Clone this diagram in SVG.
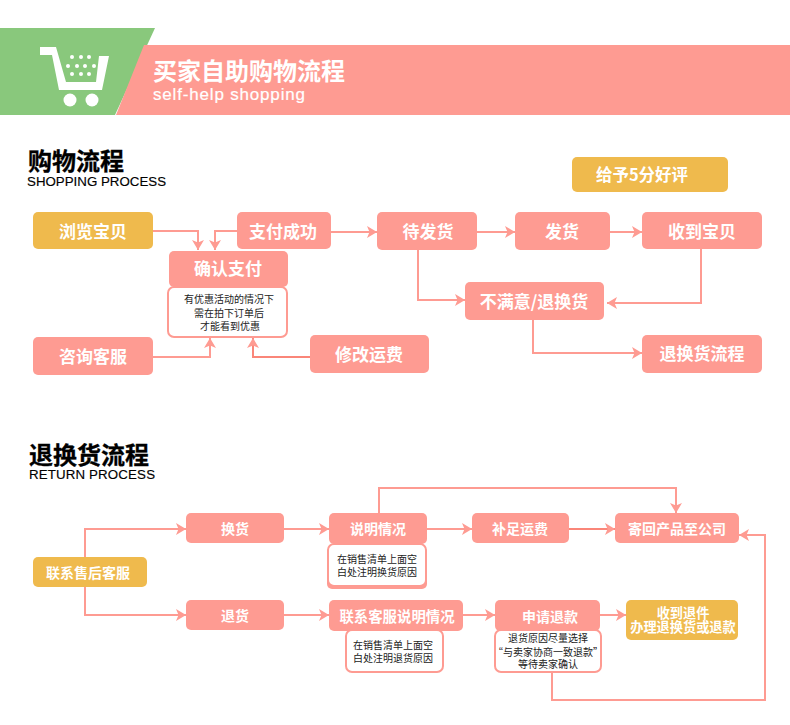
<svg xmlns="http://www.w3.org/2000/svg" width="790" height="725" viewBox="0 0 790 725">
<style>
text{font-family:"Noto Sans CJK SC","Liberation Sans",sans-serif;text-anchor:middle}
.b{fill:#fe9b92}.y{fill:#efba4d}
.t{fill:#fff;font-weight:700;font-size:17px}
.s{fill:#fff;font-weight:700;font-size:14px}
.n{fill:#fff;stroke:#fe9b92;stroke-width:2}
.nt{fill:#222;font-size:10px}
.c{fill:none;stroke:#fe9b92;stroke-width:2;marker-end:url(#a)}
.k{stroke:#fa8679}
.h{fill:#000;font-weight:700;font-size:24px;text-anchor:start;stroke:#000;stroke-width:.3}
.e{font-family:"Liberation Sans",sans-serif;font-size:13.3px;font-weight:400;stroke-width:.15}
</style>
<defs><marker id="a" markerUnits="userSpaceOnUse" markerWidth="11" markerHeight="12" refX="10" refY="6" orient="auto"><path d="M0 0L10 6L0 12L2.5 6Z" fill="#fe9b92"/></marker></defs>
<g id="header">
<path d="M0 28H155L115 115H0Z" fill="#89c87c"/>
<path d="M144 45H790V115H116Z" fill="#fe9b92"/>
<path d="M40 47H56L66 82H96L99 56H109L102 90H59L52 55H40Z" fill="#fff"/>
<circle cx="70" cy="100" r="6.5" fill="#fff"/><circle cx="92" cy="100" r="6.5" fill="#fff"/>
<g fill="#fff"><circle cx="72" cy="57" r="2"/><circle cx="81" cy="57" r="2"/><circle cx="89" cy="57" r="2"/><circle cx="68" cy="66" r="2"/><circle cx="77" cy="66" r="2"/><circle cx="85" cy="66" r="2"/><circle cx="94" cy="66" r="2"/><circle cx="72" cy="74" r="2"/><circle cx="81" cy="74" r="2"/><circle cx="89" cy="74" r="2"/></g>
<text x="249" y="80" fill="#fff" font-size="24" font-weight="700">买家自助购物流程</text>
<text x="229" y="100" fill="#fff" stroke="#fff" stroke-width=".2" font-size="17" style="font-family:'Liberation Sans',sans-serif" textLength="152">self-help shopping</text>
</g>
<g id="titles">
<text class="h" x="28" y="170">购物流程<tspan class="e" x="27" y="186" textLength="139">SHOPPING PROCESS</tspan></text>
<text class="h" x="29" y="464">退换货流程<tspan class="e" x="29" y="479" textLength="126">RETURN PROCESS</tspan></text>
</g>
<g id="connectors">
<path class="c" d="M153 231H198V250"/>
<path class="c" d="M237 231H215V250"/>
<path class="c" d="M331 232H377"/>
<path class="c" d="M477 232H515"/>
<path class="c" d="M610 232H642"/>
<path class="c" d="M153 357H210V338"/>
<path class="c k" d="M310 357H253V338"/>
<path class="c" d="M418 250V300H465"/>
<path class="c" d="M701 249V303H607"/>
<path class="c" d="M533 320V353H642"/>
<path class="c" d="M85 557V529H186"/>
<path class="c" d="M85 587V615H186"/>
<path class="c" d="M284 529H329"/>
<path class="c" d="M284 615H329"/>
<path class="c" d="M427 529H472"/>
<path class="c k" d="M569 529H615"/>
<path class="c" d="M379 513V488H676V513"/>
<path class="c" d="M463 615H495"/>
<path class="c" d="M600 615H626"/>
<path class="c" d="M552 673V700H765V535H739"/>
</g>
<g id="n1"><rect class="y" x="33" y="212" width="120" height="37" rx="5"/><text class="t" x="93" y="238">浏览宝贝</text></g>
<g id="n2"><rect class="b" x="237" y="212" width="94" height="37" rx="5"/><text class="t" x="283" y="238">支付成功</text></g>
<g id="n3"><rect class="b" x="377" y="212" width="100" height="38" rx="5"/><text class="t" x="428" y="238">待发货</text></g>
<g id="n4"><rect class="b" x="515" y="212" width="95" height="38" rx="5"/><text class="t" x="562" y="238">发货</text></g>
<g id="n5"><rect class="b" x="642" y="212" width="120" height="37" rx="5"/><text class="t" x="702" y="238">收到宝贝</text></g>
<g id="n6"><rect class="y" x="572" y="157" width="156" height="35" rx="5"/><text class="t" x="642" y="181" style="font-size:16.5px">给予5分好评</text></g>
<g id="n7"><rect class="n" x="168" y="287" width="119" height="50" rx="6"/><text class="nt" x="229" y="303">有优惠活动的情况下<tspan x="229" y="317">需在拍下订单后</tspan><tspan x="230" y="330">才能看到优惠</tspan></text></g>
<g id="n8"><rect class="b" x="169" y="251" width="119" height="36" rx="5"/><text class="t" x="228" y="275">确认支付</text></g>
<g id="n9"><rect class="b" x="33" y="337" width="120" height="38" rx="5"/><text class="t" x="93" y="363">咨询客服</text></g>
<g id="n10"><rect class="b" x="310" y="335" width="119" height="38" rx="5"/><text class="t" x="369" y="361">修改运费</text></g>
<g id="n11"><rect class="b" x="465" y="282" width="139" height="38" rx="5"/><text class="t" x="534" y="308">不满意/退换货</text></g>
<g id="n12"><rect class="b" x="642" y="335" width="120" height="38" rx="5"/><text class="t" x="702" y="360">退换货流程</text></g>
<g id="n13"><rect class="y" x="33" y="557" width="114" height="30" rx="5"/><text class="s" x="88" y="578">联系售后客服</text></g>
<g id="n14"><rect class="b" x="186" y="513" width="98" height="30" rx="5"/><text class="s" x="235" y="534">换货</text></g>
<g id="n15"><rect class="b" x="186" y="600" width="98" height="30" rx="5"/><text class="s" x="235" y="621">退货</text></g>
<g id="n16"><rect x="327" y="547" width="100" height="42" rx="5" fill="#fe9b92"/><rect class="n" x="328" y="544" width="98" height="42" rx="6"/><text class="nt" x="377" y="563">在销售清单上面空<tspan x="377" y="576">白处注明换货原因</tspan></text></g>
<g id="n17"><rect class="b" x="329" y="513" width="98" height="31" rx="5"/><text class="s" x="378" y="534">说明情况</text></g>
<g id="n18"><rect class="n" x="346" y="630" width="97" height="42" rx="6"/><text class="nt" x="393" y="649">在销售清单上面空<tspan x="393" y="662">白处注明退货原因</tspan></text></g>
<g id="n19"><rect class="b" x="329" y="600" width="134" height="31" rx="5"/><text class="s" x="397" y="622" style="font-size:14.4px">联系客服说明情况</text></g>
<g id="n20"><rect class="b" x="472" y="513" width="97" height="30" rx="5"/><text class="s" x="520" y="534">补足运费</text></g>
<g id="n21"><rect class="b" x="615" y="513" width="124" height="30" rx="5"/><text class="s" x="677" y="534">寄回产品至公司</text></g>
<g id="n22"><rect class="n" x="495" y="630" width="106" height="42" rx="6"/><text class="nt" x="548" y="642">退货原因尽量选择<tspan x="548" y="656">“与卖家协商一致退款”</tspan><tspan x="548" y="668">等待卖家确认</tspan></text></g>
<g id="n23"><rect class="b" x="495" y="600" width="105" height="31" rx="5"/><text class="s" x="550" y="622">申请退款</text></g>
<g id="n24"><rect class="y" x="626" y="600" width="112" height="40" rx="5"/><text class="s" x="683" y="618" style="font-size:13.2px">收到退件<tspan x="683" y="632">办理退换货或退款</tspan></text></g>
</svg>
